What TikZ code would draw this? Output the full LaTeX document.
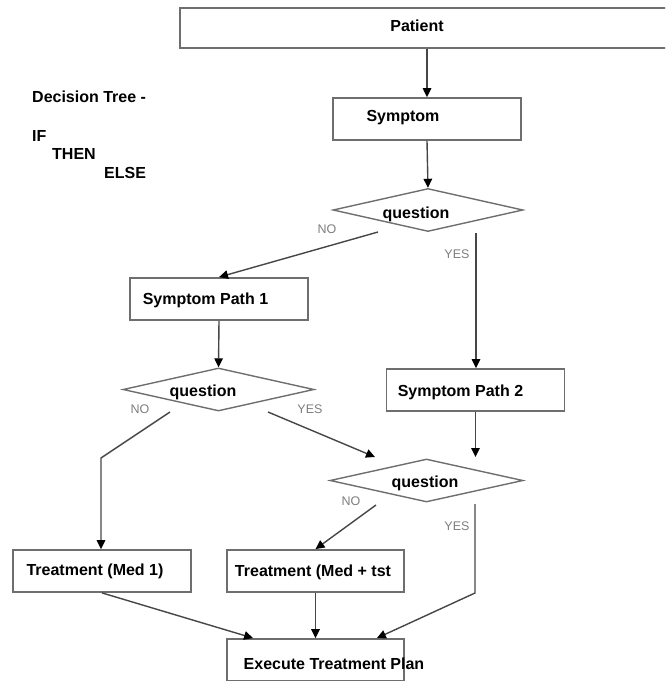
\documentclass[tikz,border=0pt]{standalone}
\usepackage{fontspec}
\setmainfont{Liberation Sans}
\usetikzlibrary{calc,arrows.meta,shapes.geometric}
\definecolor{boxgray}{RGB}{110,110,110}
\definecolor{linegray}{RGB}{70,70,70}
\definecolor{taggray}{RGB}{125,125,125}

\begin{document}
\begin{tikzpicture}[x=1pt,y=-1pt,
  box/.style={draw=boxgray,line width=1.8pt,minimum height=42pt,inner sep=0pt},
  ask/.style={diamond,draw=boxgray,line width=1.4pt,inner sep=0pt,minimum height=43pt},
  txt/.style={font=\fontsize{16}{18}\selectfont\bfseries,inner sep=0pt},
  tag/.style={font=\fontsize{12.5}{14}\selectfont,text=taggray,inner sep=0pt},
  flow/.style={draw=linegray,line width=1.4pt,-{Triangle[length=9pt,width=8.5pt,color=black]}}]
  \useasboundingbox (0,0) rectangle (665,681);
  \clip (0,0) rectangle (665,681);

  \node[box,minimum width=490pt,minimum height=40pt] (patient) at (425,28) {};
  \node[box,minimum width=188pt] (symptom) at (427,119) {};
  \node[ask,minimum width=190pt] (q1) at (428,210) {};
  \node[box,minimum width=178pt] (sp1) at (219,299) {};
  \node[box,minimum width=178pt] (sp2) at (475.5,390) {};
  \node[ask,minimum width=191pt] (q2) at (218.5,389.5) {};
  \node[ask,minimum width=193pt] (q3) at (426.5,480.5) {};
  \node[box,minimum width=178pt] (med1) at (102,571) {};
  \node[box,minimum width=177pt] (medtst) at (315.5,571) {};
  \node[box,minimum width=177pt] (execute) at (315.5,660) {};

  \node[txt] (patienttxt) at (417,26) {Patient};
  \node[txt] (symptomtxt) at (403,118) {Symptom};
  \node[txt] (q1txt) at (416,214) {question};
  \node[txt] (sp1txt) at (205.5,300) {Symptom Path 1};
  \node[txt] (sp2txt) at (460.5,392) {Symptom Path 2};
  \node[txt] (q2txt) at (203,392) {question};
  \node[txt] (q3txt) at (425,483) {question};
  \node[txt] (med1txt) at (95,571) {Treatment (Med 1)};
  \node[txt] (medtsttxt) at (313,572) {Treatment (Med + tst};
  \node[txt] (executetxt) at (334,664) {Execute Treatment Plan};

  \node[txt,anchor=west] (title) at (32,97) {Decision Tree -};
  \node[txt,anchor=west] (iftxt) at (32,136) {IF};
  \node[txt,anchor=west] (thentxt) at (52,154) {THEN};
  \node[txt,anchor=west] (elsetxt) at (104,173) {ELSE};

  \node[tag] (q1notag) at (327,229) {NO};
  \node[tag] (q1yestag) at (457,254) {YES};
  \node[tag] (q2notag) at (140,409) {NO};
  \node[tag] (q2yestag) at (310,409) {YES};
  \node[tag] (q3notag) at (351,501) {NO};
  \node[tag] (q3yestag) at (457,526) {YES};

  \coordinate (q1no) at (378,232);
  \coordinate (q1yes) at (476,233);
  \coordinate (q2no) at (170,412);
  \coordinate (q2bend) at (101,458);
  \coordinate (q2yes) at (268,412);
  \coordinate (q2yesend) at (375,457);
  \coordinate (sp2end) at (475.5,457);
  \coordinate (q3no) at (376,505);
  \coordinate (q3yes) at (475,504);
  \coordinate (q3bend) at (475,593);

  \draw[flow] (symptom.north |- patient.south) -- (symptom.north);
  \draw[flow] (symptom.south) -- (q1.north);
  \draw[flow] (q1no) -- (sp1.north);
  \draw[flow] (q1yes) -- (q1yes |- sp2.north);
  \draw[flow] (sp1.south) -- (q2.north);
  \draw[flow] (q2no) -- (q2bend) -- (q2bend |- med1.north);
  \draw[flow] (q2yes) -- (q2yesend);
  \draw[flow] (sp2.south) -- (sp2end);
  \draw[flow] (q3no) -- (medtst.north);
  \draw[flow] (q3yes) -- (q3bend) -- ($(execute.north east)+(-28,0)$);
  \draw[flow] (med1.south) -- ($(execute.north west)+(27,0)$);
  \draw[flow] (medtst.south) -- (execute.north);
\end{tikzpicture}
\end{document}
